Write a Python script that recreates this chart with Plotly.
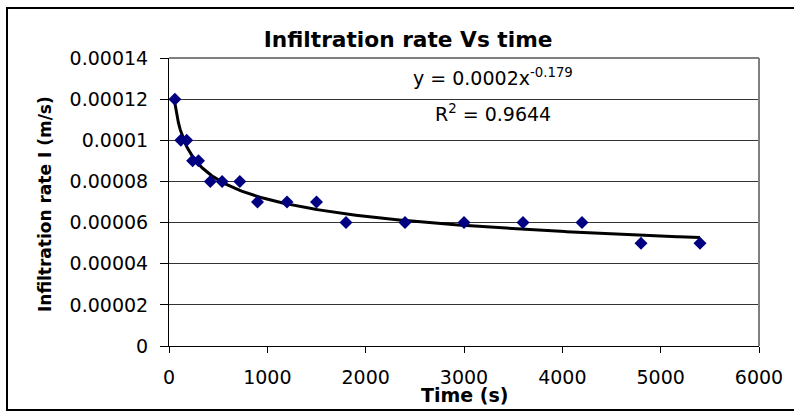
import numpy as np
import plotly.graph_objects as go

# Data
time_s = [60, 120, 180, 240, 300, 420, 540, 720, 900, 1200, 1500, 1800,
          2400, 3000, 3600, 4200, 4800, 5400]
rate = [0.00012, 0.0001, 0.0001, 0.00009, 0.00009, 0.00008, 0.00008, 0.00008,
        0.00007, 0.00007, 0.00007, 0.00006, 0.00006, 0.00006, 0.00006, 0.00006,
        0.00005, 0.00005]
y_tickvals = [0, 0.00002, 0.00004, 0.00006, 0.00008, 0.0001, 0.00012, 0.00014]
y_ticktext = ["0", "0.00002", "0.00004", "0.00006", "0.00008", "0.0001", "0.00012", "0.00014"]
x_tickvals = [0, 1000, 2000, 3000, 4000, 5000, 6000]
title_text = "Infiltration rate Vs time"
eq_text = "y = 0.0002x<sup>-0.179</sup>"
r2_text = "R<sup>2</sup> = 0.9644"

# Power trendline (least squares in log-log space)
b, a = np.polyfit(np.log(time_s), np.log(rate), 1)
xt = np.linspace(min(time_s), max(time_s), 300)
yt = np.exp(a) * xt ** b

FONT = "DejaVu Sans"

fig = go.Figure()
fig.add_trace(go.Scatter(x=xt, y=yt, mode="lines",
                         line=dict(color="black", width=3), hoverinfo="skip"))
fig.add_trace(go.Scatter(x=time_s, y=rate, mode="markers",
                         marker=dict(symbol="diamond", size=10, color="#000080",
                                     line=dict(width=0)), cliponaxis=False))

fig.update_layout(
    width=794, height=412,
    margin=dict(l=169, r=35, t=58, b=66),
    paper_bgcolor="white", plot_bgcolor="white",
    showlegend=False,
    font=dict(family=FONT, color="black", size=19),
    title=dict(text="<b>" + title_text + "</b>", x=0.514, xanchor="center",
               y=1 - 39 / 412, yanchor="middle", yref="container",
               font=dict(family=FONT, size=21.7, color="black")),
)
fig.update_xaxes(range=[0, 6000], tickvals=x_tickvals, showgrid=False,
                 showline=True, linecolor="black", linewidth=1,
                 ticks="outside", ticklen=6, tickcolor="black",
                 ticklabelstandoff=8, zeroline=False,
                 tickfont=dict(family=FONT, size=19, color="black"))
fig.update_yaxes(range=[0, 0.00014], tickvals=y_tickvals, ticktext=y_ticktext,
                 showgrid=True, gridcolor="#333333", gridwidth=1,
                 showline=True, linecolor="black", linewidth=1,
                 ticks="outside", ticklen=8, tickcolor="black",
                 ticklabelstandoff=8, zeroline=False,
                 tickfont=dict(family=FONT, size=19, color="black"))

# Plot-area frame (grey top and right) and outer chart border
fig.add_shape(type="line", xref="paper", yref="paper", x0=0, x1=1, y0=1, y1=1,
              line=dict(color="#808080", width=2))
fig.add_shape(type="line", xref="paper", yref="paper", x0=1, x1=1, y0=0, y1=1,
              line=dict(color="#808080", width=2))
fig.add_shape(type="rect", xref="paper", yref="paper",
              x0=(7 - 169) / 590, x1=(810 - 169) / 590,
              y0=(346 - 410) / 288, y1=(346 - 8) / 288,
              line=dict(color="black", width=2), fillcolor="rgba(0,0,0,0)")

# Axis titles
fig.add_annotation(text="<b>Time (s)</b>", xref="paper", yref="paper",
                   x=0.5, y=(346 - 395) / 288, xanchor="center", yanchor="middle",
                   showarrow=False, font=dict(family=FONT, size=19, color="black"))
fig.add_annotation(text="<b>Infiltration rate I (m/s)</b>", xref="paper", yref="paper",
                   x=(45 - 169) / 590, y=(346 - 204) / 288, xanchor="center",
                   yanchor="middle", textangle=-90, showarrow=False,
                   font=dict(family=FONT, size=17, color="black"))

# Trendline equation
fig.add_annotation(text=eq_text, xref="paper", yref="paper",
                   x=(493 - 169) / 590, y=(346 - 77) / 288, xanchor="center",
                   yanchor="middle", showarrow=False,
                   font=dict(family=FONT, size=19, color="black"))
fig.add_annotation(text=r2_text, xref="paper", yref="paper",
                   x=(493 - 169) / 590, y=(346 - 113) / 288, xanchor="center",
                   yanchor="middle", showarrow=False,
                   font=dict(family=FONT, size=19, color="black"))

fig.write_html("out.html", config={"displayModeBar": False},
               post_script="document.body.style.margin='0';document.body.style.overflow='hidden';")
